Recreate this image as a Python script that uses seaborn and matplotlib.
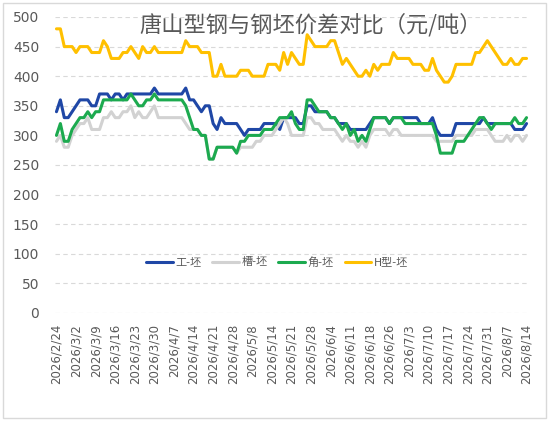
import matplotlib
matplotlib.use('Agg')
import matplotlib.pyplot as plt
import seaborn as sns
import pandas as pd
from matplotlib.patches import Rectangle

# ---- data (yuan/ton) ----
series_names = ['工-坯', '槽-坯', '角-坯', 'H型-坯']

gong = [340, 360, 330, 330, 340, 350, 360, 360, 360, 350,
        350, 370, 370, 370, 360, 370, 370, 360, 370, 370,
        370, 370, 370, 370, 370, 380, 370, 370, 370, 370,
        370, 370, 370, 380, 360, 360, 350, 340, 350, 350,
        320, 310, 330, 320, 320, 320, 320, 310, 300, 310,
        310, 310, 310, 320, 320, 320, 320, 310, 330, 330,
        330, 330, 320, 320, 350, 350, 340, 340, 340, 340,
        330, 330, 320, 320, 320, 310, 310, 310, 310, 310,
        320, 330, 330, 330, 330, 320, 330, 330, 330, 330,
        330, 330, 330, 320, 320, 320, 330, 310, 300, 300,
        300, 300, 320, 320, 320, 320, 320, 320, 320, 330,
        320, 320, 320, 320, 320, 320, 320, 310, 310, 310,
        320]

cao = [290, 300, 280, 280, 300, 310, 320, 320, 330, 310,
       310, 310, 330, 330, 340, 330, 330, 340, 340, 350,
       330, 340, 330, 330, 340, 350, 330, 330, 330, 330,
       330, 330, 330, 320, 310, 310, 310, 300, 300, 260,
       260, 280, 280, 280, 280, 280, 270, 280, 280, 280,
       280, 290, 290, 300, 300, 300, 310, 320, 330, 320,
       300, 300, 300, 300, 330, 330, 320, 320, 310, 310,
       310, 310, 300, 290, 300, 290, 290, 280, 290, 280,
       300, 310, 310, 310, 310, 300, 310, 310, 300, 300,
       300, 300, 300, 300, 300, 300, 300, 290, 290, 290,
       290, 290, 300, 300, 300, 300, 300, 310, 310, 310,
       310, 300, 290, 290, 290, 300, 290, 300, 300, 290,
       300]

jiao = [300, 320, 290, 290, 310, 320, 330, 330, 340, 330,
        340, 340, 360, 360, 360, 360, 360, 360, 360, 370,
        360, 350, 350, 360, 360, 370, 360, 360, 360, 360,
        360, 360, 360, 350, 330, 310, 310, 300, 300, 260,
        260, 280, 280, 280, 280, 280, 270, 290, 290, 300,
        300, 300, 300, 310, 310, 310, 320, 330, 330, 330,
        340, 320, 310, 310, 360, 360, 350, 340, 340, 340,
        330, 330, 320, 310, 320, 300, 310, 290, 300, 290,
        310, 330, 330, 330, 330, 320, 330, 330, 330, 320,
        320, 320, 320, 320, 320, 320, 320, 300, 270, 270,
        270, 270, 290, 290, 290, 300, 310, 320, 330, 330,
        320, 310, 320, 320, 320, 320, 320, 330, 320, 320,
        330]

hxing = [480, 480, 450, 450, 450, 440, 450, 450, 450, 440,
         440, 440, 460, 450, 430, 430, 430, 440, 440, 450,
         440, 430, 450, 440, 440, 450, 440, 440, 440, 440,
         440, 440, 440, 460, 450, 450, 450, 440, 440, 440,
         400, 400, 420, 400, 400, 400, 400, 410, 410, 410,
         400, 400, 400, 400, 420, 420, 420, 410, 440, 420,
         440, 430, 420, 420, 470, 460, 450, 450, 450, 450,
         460, 460, 440, 420, 430, 420, 410, 400, 400, 410,
         400, 420, 410, 420, 420, 420, 440, 430, 430, 430,
         430, 420, 420, 420, 410, 410, 430, 410, 400, 390,
         390, 400, 420, 420, 420, 420, 420, 440, 440, 450,
         460, 450, 440, 430, 420, 420, 430, 420, 420, 430,
         430]

tick_labels = ['2026/2/24', '2026/3/2', '2026/3/9', '2026/3/16', '2026/3/23',
               '2026/3/30', '2026/4/7', '2026/4/14', '2026/4/21', '2026/4/28',
               '2026/5/8', '2026/5/14', '2026/5/21', '2026/5/28', '2026/6/4',
               '2026/6/11', '2026/6/18', '2026/6/26', '2026/7/3', '2026/7/10',
               '2026/7/17', '2026/7/24', '2026/7/31', '2026/8/7', '2026/8/14']

colors = ['#1f47a6', '#d2d2d2', '#1caa4f', '#ffc000']

# long table for seaborn
frames = []
for name, vals in zip(series_names, [gong, cao, jiao, hxing]):
    frames.append(pd.DataFrame({'idx': range(len(vals)), 'value': vals, 'series': name}))
df = pd.concat(frames, ignore_index=True)

sns.set_style('white')
plt.rcParams['font.family'] = ['Noto Sans CJK SC', 'DejaVu Sans']

fig = plt.figure(figsize=(5.54, 4.24), dpi=100)
ax = fig.add_axes([54.5 / 554, 1 - 313 / 424, 474 / 554, 296 / 424])

sns.lineplot(data=df, x='idx', y='value', hue='series', hue_order=series_names,
             palette=colors, linewidth=2.2, ax=ax)

ax.set_xlim(-0.5, len(gong) - 0.5)
ax.set_ylim(0, 500)
ax.set_yticks(range(0, 501, 50))
ax.set_xticks(range(0, len(gong), 5))
ax.set_xticklabels(tick_labels, rotation=90, family='DejaVu Sans')
for t in ax.get_yticklabels():
    t.set_family('DejaVu Sans')
ax.tick_params(axis='x', length=0, pad=8, labelsize=8.5, colors='#595959')
ax.tick_params(axis='y', length=0, pad=11, labelsize=10, colors='#595959')
ax.set_xlabel('')
ax.set_ylabel('')
for s in ax.spines.values():
    s.set_visible(False)
ax.yaxis.grid(True, color='#d9d9d9', linestyle=(0, (4, 3)), linewidth=0.8)
ax.set_axisbelow(True)

handles, labels = ax.get_legend_handles_labels()
ax.legend(handles, labels, ncol=4, loc='center', frameon=False,
          bbox_to_anchor=(277 / 554, 1 - 262 / 424), bbox_transform=fig.transFigure,
          fontsize=8, labelcolor='#595959', handlelength=2.4, handletextpad=0.2,
          columnspacing=1.0)

fig.text(311 / 554, 1 - 25 / 424, '唐山型钢与钢坯价差对比（元/吨）',
         ha='center', va='center', fontsize=16, color='#595959')

fig.patches.append(Rectangle((3 / 554, 1 - 418 / 424), 543 / 554, 415 / 424,
                             transform=fig.transFigure, fill=False,
                             edgecolor='#d9d9d9', linewidth=1))

plt.savefig('out.png', dpi=100)
